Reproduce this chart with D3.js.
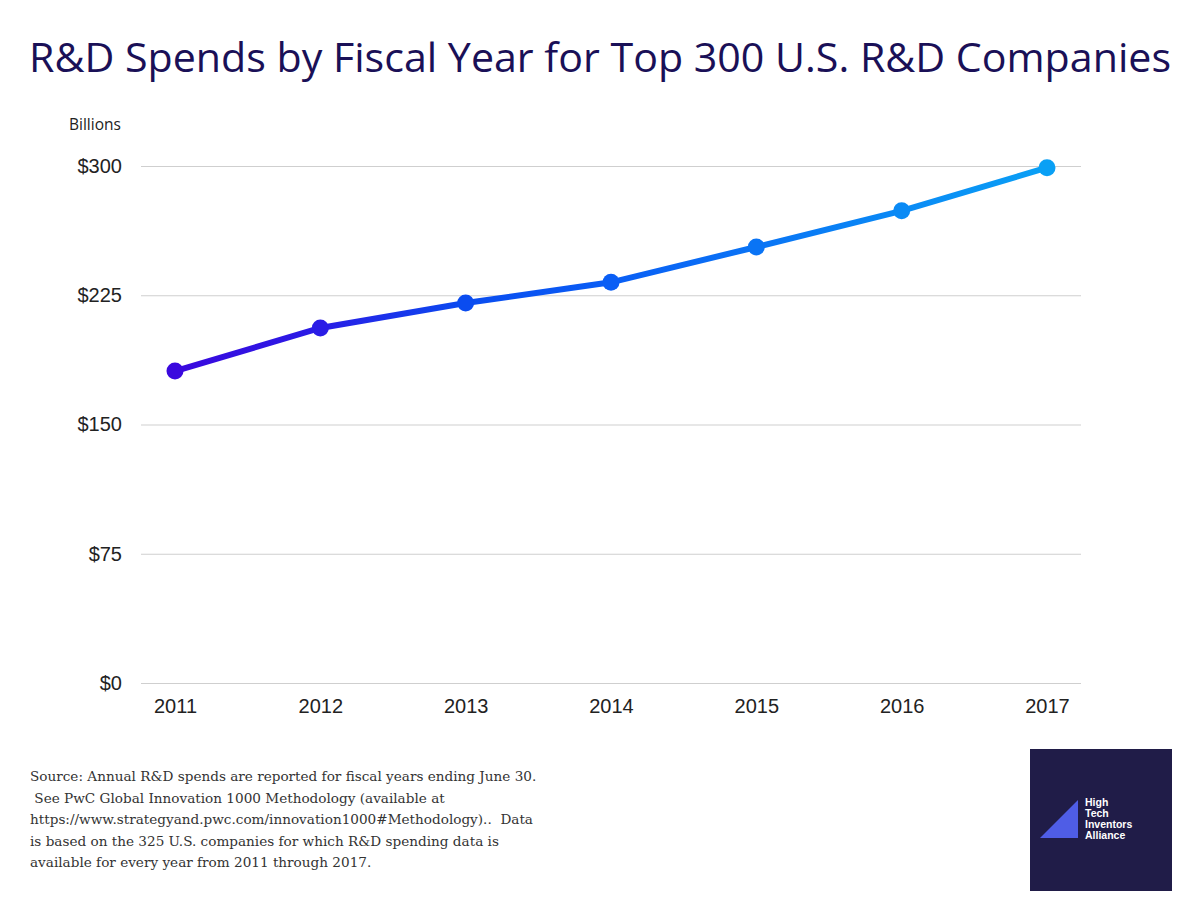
<!DOCTYPE html>
<html>
<head>
<meta charset="utf-8">
<script src="https://cdn.jsdelivr.net/npm/d3@7"></script>
<style>
  body { margin: 0; background: #fff; }
  svg { display: block; }
</style>
</head>
<body>
<svg id="chart" width="1200" height="900"></svg>
<script>
// chart data
const years = ["2011", "2012", "2013", "2014", "2015", "2016", "2017"];
const spend = [181, 206, 220.5, 232.5, 253, 274, 299];
const yTicks = [0, 75, 150, 225, 300];
const sourceLines = [
    "Source: Annual R&D spends are reported for fiscal years ending June 30.",
    " See PwC Global Innovation 1000 Methodology (available at",
    "https://www.strategyand.pwc.com/innovation1000#Methodology)..  Data",
    "is based on the 325 U.S. companies for which R&D spending data is",
    "available for every year from 2011 through 2017."
];
const logoLines = ["High", "Tech", "Inventors", "Alliance"];

const svg = d3.select("#chart");

// plot area
const plotLeft = 141, plotRight = 1081, plotTop = 166, plotBottom = 683;

const x = d3.scalePoint()
    .domain(years)
    .range([175, 1047]);

const y = d3.scaleLinear()
    .domain([0, 300])
    .range([plotBottom, plotTop]);

// colour runs from purple to light blue along the years
const colour = d3.scaleLinear()
    .domain([0, 1, 2, 3, 6])
    .range(["#3a08de", "#2a1ce6", "#0a4cf0", "#0a5ef5", "#0aa0f5"]);

// title
svg.append("text")
    .attr("x", 600)
    .attr("y", 72)
    .attr("text-anchor", "middle")
    .attr("font-family", "'Open Sans', sans-serif")
    .attr("font-size", 41)
    .attr("fill", "#1a1057")
    .attr("textLength", 1142)
    .attr("lengthAdjust", "spacingAndGlyphs")
    .text("R&D Spends by Fiscal Year for Top 300 U.S. R&D Companies");

svg.append("text")
    .attr("x", 69)
    .attr("y", 130)
    .attr("font-family", "'Open Sans', sans-serif")
    .attr("font-size", 15.5)
    .attr("fill", "#222")
    .text("Billions");

// y axis with grid lines
const yAxis = svg.append("g")
    .attr("transform", "translate(" + plotLeft + ",0)")
    .call(d3.axisLeft(y)
        .tickValues(yTicks)
        .tickSize(-(plotRight - plotLeft))
        .tickPadding(19)
        .tickFormat(d => "$" + d));

yAxis.select(".domain").remove();
yAxis.selectAll(".tick line")
    .attr("stroke", "#cfcfcf")
    .attr("stroke-width", 1.2);
yAxis.selectAll(".tick text")
    .attr("font-family", "'Liberation Sans', Arial, sans-serif")
    .attr("font-size", 20)
    .attr("fill", "#222");

// x axis labels
const xAxis = svg.append("g")
    .attr("transform", "translate(0," + plotBottom + ")")
    .call(d3.axisBottom(x).tickSize(0).tickPadding(16));

xAxis.select(".domain").remove();
xAxis.selectAll(".tick text")
    .attr("font-family", "'Liberation Sans', Arial, sans-serif")
    .attr("font-size", 20)
    .attr("fill", "#222");

// gradient for the line
const grad = svg.append("defs").append("linearGradient")
    .attr("id", "lineGrad")
    .attr("gradientUnits", "userSpaceOnUse")
    .attr("x1", x(years[0])).attr("y1", 0)
    .attr("x2", x(years[years.length - 1])).attr("y2", 0);

colour.domain().forEach(function(d, i) {
    grad.append("stop")
        .attr("offset", d / (years.length - 1))
        .attr("stop-color", colour.range()[i]);
});

const data = years.map((yr, i) => ({ year: yr, value: spend[i], idx: i }));

const line = d3.line()
    .x(d => x(d.year))
    .y(d => y(d.value));

svg.append("path")
    .datum(data)
    .attr("d", line)
    .attr("fill", "none")
    .attr("stroke", "url(#lineGrad)")
    .attr("stroke-width", 6);

svg.selectAll("circle.pt")
    .data(data)
    .enter().append("circle")
    .attr("class", "pt")
    .attr("cx", d => x(d.year))
    .attr("cy", d => y(d.value))
    .attr("r", 8.5)
    .attr("fill", d => colour(d.idx));

// source note
svg.append("text")
    .attr("font-family", "'DejaVu Serif', serif")
    .attr("font-size", 13.6)
    .attr("fill", "#333")
    .style("white-space", "pre")
    .selectAll("tspan")
    .data(sourceLines)
    .enter().append("tspan")
    .attr("x", 30)
    .attr("y", (d, i) => 781 + i * 21.6)
    .text(d => d);

// logo box
const logo = svg.append("g");
logo.append("rect")
    .attr("x", 1030)
    .attr("y", 749)
    .attr("width", 142)
    .attr("height", 142)
    .attr("fill", "#201c48");
logo.append("path")
    .attr("d", "M1040,838 L1078,800 L1078,838 Z")
    .attr("fill", "#4f5de6");
logo.append("text")
    .attr("font-family", "'Liberation Sans', Arial, sans-serif")
    .attr("font-weight", "bold")
    .attr("font-size", 10.5)
    .attr("fill", "#fff")
    .selectAll("tspan")
    .data(logoLines)
    .enter().append("tspan")
    .attr("x", 1085)
    .attr("y", (d, i) => 806 + i * 11)
    .text(d => d);
</script>
</body>
</html>
